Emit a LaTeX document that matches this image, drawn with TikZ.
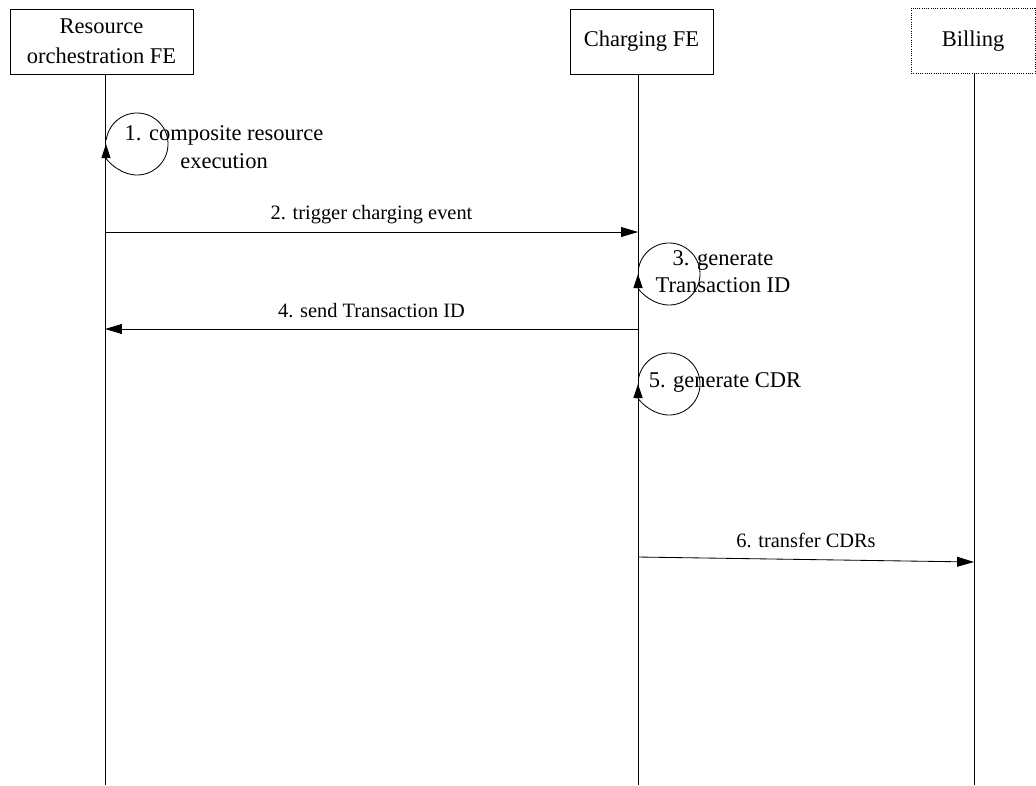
\documentclass[tikz,border=0pt]{standalone}
\usepackage{fontspec}
\setmainfont{Liberation Serif}
\usetikzlibrary{arrows.meta}
\tikzset{
  fe/.style={draw, line width=0.6pt, minimum height=1.625cm, align=center,
    font=\fontsize{16}{21}\selectfont},
  vida/.style={line width=0.6pt},
  msg/.style={line width=0.6pt, -{Triangle[length=12pt, width=7pt]}},
  bucle/.style={line width=0.6pt, -{Triangle[length=10pt, width=6.5pt]}},
  txt/.style={align=center, font=\fontsize{16}{20}\selectfont, inner sep=0pt},
  etq/.style={font=\fontsize{14.5}{17}\selectfont, inner sep=0pt}
}
\begin{document}
\begin{tikzpicture}[x=0.025cm, y=0.025cm]
        \useasboundingbox (0,0) rectangle (1036,-785);
        % entidades
        \node[fe, minimum width=4.575cm] (ro) at (101.5,-41.5) {Resource\\orchestration FE};
        \node[fe, minimum width=3.575cm] (cf) at (641.5,-41.5) {Charging FE};
        \node[fe, minimum width=3.1cm, densely dotted] (bi) at (973,-41) {Billing};
        % lineas de vida
        \coordinate (l1) at (105,-785);
        \coordinate (l2) at (638,-785);
        \coordinate (l3) at (974,-785);
        \draw[vida] (l1 |- ro.south) -- (l1);
        \draw[vida] (l2 |- cf.south) -- (l2);
        \draw[vida] (l3 |- bi.south) -- (l3);
        % 1
        \coordinate (c1) at (137,-144);
        \draw[bucle] (c1) ++(172:31) arc[start angle=172, end angle=-180, radius=31];
        \node[txt] (t1) at (224,-147) {1. composite resource\\execution};
        % 2
        \coordinate (a2) at (105,-232);
        \coordinate (b2) at (638,-232);
        \draw[msg] (a2) -- (b2) node[etq, midway, above=5.5pt] (m2) {2. trigger charging event};
        % 3
        \coordinate (c3) at (669,-274);
        \draw[bucle] (c3) ++(172:31) arc[start angle=172, end angle=-180, radius=31];
        \node[txt, font=\fontsize{16}{19}\selectfont] (t3) at (723,-271.5) {3. generate\\Transaction ID};
        % 4
        \coordinate (a4) at (638,-329);
        \coordinate (b4) at (105,-329);
        \draw[msg] (a4) -- (b4) node[etq, midway, above=8pt] (m4) {4. send Transaction ID};
        % 5
        \coordinate (c5) at (669,-384);
        \draw[bucle] (c5) ++(172:31) arc[start angle=172, end angle=-180, radius=31];
        \node[txt] (t5) at (725,-382) {5. generate CDR};
        % 6
        \coordinate (a6) at (638,-557);
        \coordinate (b6) at (974,-562);
        \draw[msg] (a6) -- (b6) node[etq, midway, above=7.7pt] (m6) {6. transfer CDRs};
      \end{tikzpicture}
\end{document}
